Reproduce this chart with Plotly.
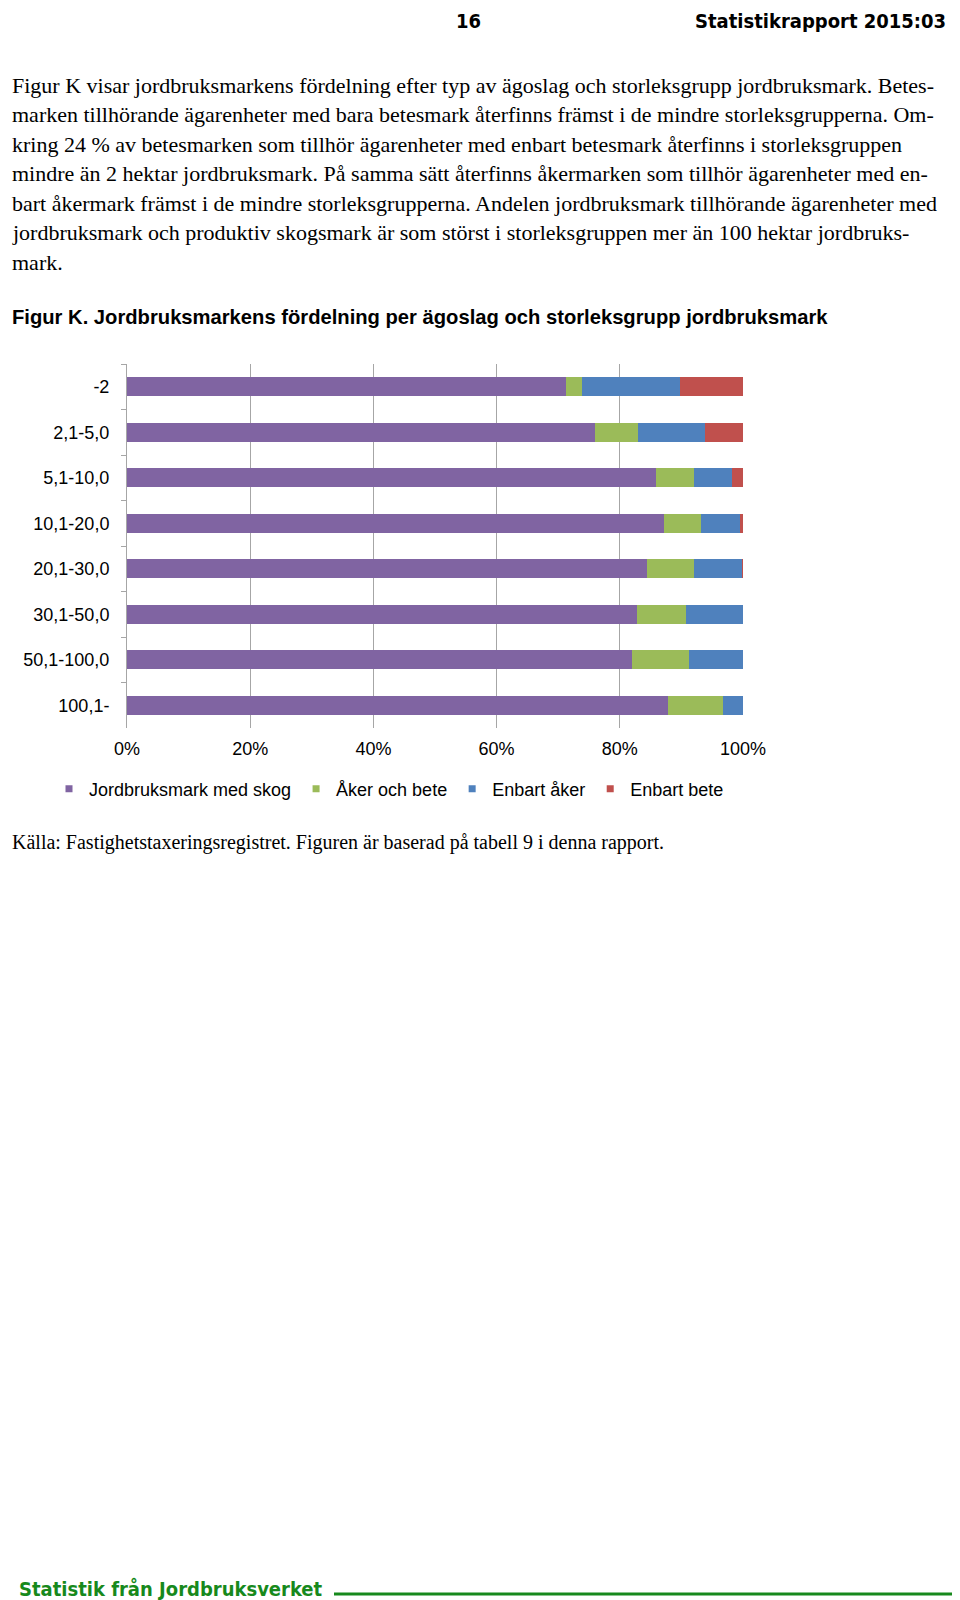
import plotly.graph_objects as go

# ---------------- data ----------------
categories = ["-2", "2,1-5,0", "5,1-10,0", "10,1-20,0", "20,1-30,0",
              "30,1-50,0", "50,1-100,0", "100,1-"]
series_names = ["Jordbruksmark med skog", "Åker och bete", "Enbart åker", "Enbart bete"]
skog = [71.2, 75.9, 85.8, 87.1, 84.4, 82.8, 82.0, 87.9]
aker_bete = [2.7, 7.0, 6.3, 6.1, 7.6, 8.0, 9.2, 8.9]
enbart_aker = [15.9, 11.0, 6.1, 6.3, 7.9, 9.2, 8.8, 3.2]
enbart_bete = [10.2, 6.1, 1.8, 0.5, 0.1, 0.0, 0.0, 0.0]
series_values = [skog, aker_bete, enbart_aker, enbart_bete]
colors = ["#8064A2", "#9BBB59", "#4F81BD", "#C0504D"]
x_ticks = [0, 20, 40, 60, 80, 100]
x_ticklabels = ["0%", "20%", "40%", "60%", "80%", "100%"]

paragraph = [
    "Figur K visar jordbruksmarkens fördelning efter typ av ägoslag och storleksgrupp jordbruksmark. Betes-",
    "marken tillhörande ägarenheter med bara betesmark återfinns främst i de mindre storleksgrupperna. Om-",
    "kring 24 % av betesmarken som tillhör ägarenheter med enbart betesmark återfinns i storleksgruppen",
    "mindre än 2 hektar jordbruksmark. På samma sätt återfinns åkermarken som tillhör ägarenheter med en-",
    "bart åkermark främst i de mindre storleksgrupperna. Andelen jordbruksmark tillhörande ägarenheter med",
    "jordbruksmark och produktiv skogsmark är som störst i storleksgruppen mer än 100 hektar jordbruks-",
    "mark.",
]
fig_title = "Figur K. Jordbruksmarkens fördelning per ägoslag och storleksgrupp jordbruksmark"
source = "Källa: Fastighetstaxeringsregistret. Figuren är baserad på tabell 9 i denna rapport."
header_page = "16"
header_report = "Statistikrapport 2015:03"
footer_text = "Statistik från Jordbruksverket"

# ---------------- layout geometry ----------------
W, H = 960, 1600
L, R, T, B = 119, 225, 356, 880
PW = W - L - R
PH = H - T - B


def px(x):
    return (x - L) / PW


def py(y):
    return (H - B - y) / PH


serif = "Liberation Serif, Times New Roman, serif"
sans = "Liberation Sans, Arial, sans-serif"
narrow = "DejaVu Sans Condensed, sans-serif"
GREEN = "#17891c"

fig = go.Figure()
for name, vals, col in zip(series_names, series_values, colors):
    fig.add_trace(go.Bar(
        y=categories, x=vals, name=name, orientation="h",
        marker=dict(color=col, line=dict(width=0)),
        showlegend=False, hoverinfo="x+y+name",
    ))
# legend entries (small squares like the original)
for name, col in zip(series_names, colors):
    fig.add_trace(go.Scatter(
        x=[None], y=[None], mode="markers", name=name,
        marker=dict(symbol="square", size=7, color=col),
    ))

annotations = []
# header
annotations.append(dict(text=f"<b>{header_page}</b>", x=px(460), y=py(13), xanchor="center", yanchor="middle",
                        font=dict(family=narrow, size=20, color="black")))
annotations.append(dict(text=f"<b>{header_report}</b>", x=px(940), y=py(13), xanchor="right", yanchor="middle",
                        font=dict(family=narrow, size=20, color="black")))
# paragraph
for i, line in enumerate(paragraph):
    annotations.append(dict(text=line, x=px(2), y=py(77 + i * 29.6), xanchor="left", yanchor="middle",
                            font=dict(family=serif, size=22, color="black")))
# figure title
annotations.append(dict(text=f"<b>{fig_title}</b>", x=px(2), y=py(309), xanchor="left", yanchor="middle",
                        font=dict(family=sans, size=20.2, color="black")))
# source
annotations.append(dict(text=source, x=px(2), y=py(834), xanchor="left", yanchor="middle",
                        font=dict(family=serif, size=20, color="black")))
# footer
annotations.append(dict(text=f"<b>{footer_text}</b>", x=px(9), y=py(1581), xanchor="left", yanchor="middle",
                        font=dict(family=narrow, size=20, color=GREEN)))
for a in annotations:
    a.update(xref="paper", yref="paper", showarrow=False)

fig.update_layout(
    width=W, height=H,
    margin=dict(l=L, r=R, t=T, b=B, pad=0),
    paper_bgcolor="white", plot_bgcolor="white",
    barmode="stack", bargap=0.59,
    font=dict(family=sans, size=18, color="black"),
    annotations=annotations,
    shapes=[dict(type="line", xref="paper", yref="paper", x0=px(326), x1=px(956), y0=py(1586), y1=py(1586),
                 line=dict(color=GREEN, width=3))],
    legend=dict(orientation="h", x=px(41), y=py(781), xanchor="left", yanchor="middle",
                font=dict(family=sans, size=18, color="black"), itemwidth=30,
                traceorder="normal", bgcolor="rgba(0,0,0,0)", tracegroupgap=0),
    showlegend=True,
)
fig.update_xaxes(
    range=[0, 100], tickvals=x_ticks, ticktext=x_ticklabels,
    showgrid=True, gridcolor="#a6a6a6", gridwidth=1, zeroline=False,
    showline=False, ticks="", tickfont=dict(family=sans, size=18, color="black"),
    ticklabelstandoff=8, fixedrange=True,
)
fig.update_yaxes(
    categoryorder="array", categoryarray=categories, autorange="reversed",
    showline=True, linecolor="#a6a6a6", linewidth=1,
    ticks="outside", tickson="boundaries", ticklen=5, tickcolor="#a6a6a6",
    showgrid=False, tickfont=dict(family=sans, size=18, color="black"),
    ticklabelstandoff=13, fixedrange=True,
)

fig.write_html("out.html")
